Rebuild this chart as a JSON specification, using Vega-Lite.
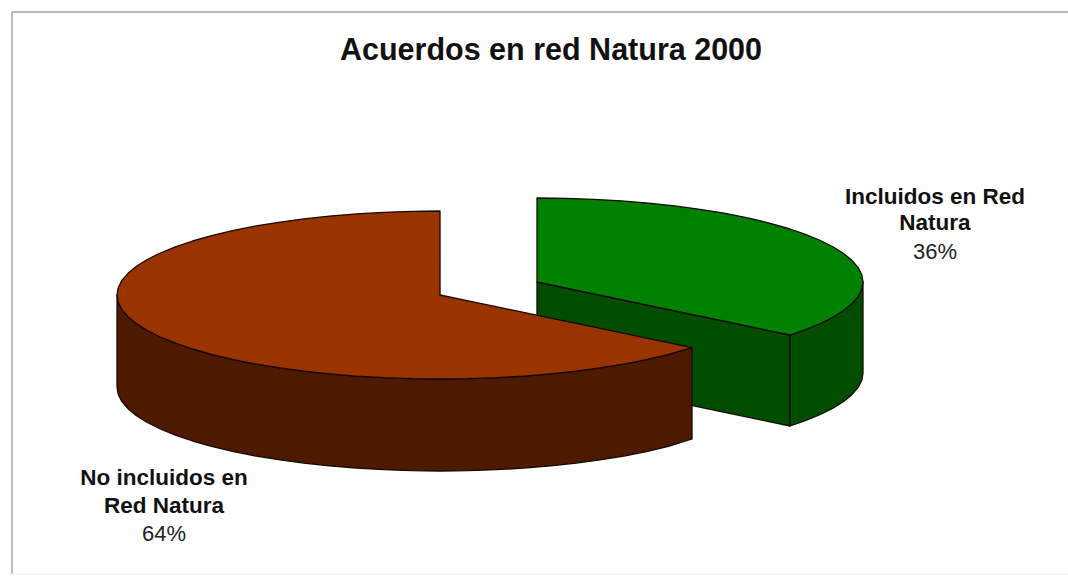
{"$schema":"https://vega.github.io/schema/vega-lite/v6.json","width":1068,"height":579,"padding":0,"autosize":{"type":"none"},"background":"#ffffff","view":{"stroke":null},
"title":{"text":"Acuerdos en red Natura 2000","anchor":"middle","dx":17,"dy":90,"offset":0,"font":"Liberation Sans","fontSize":30.5,"fontWeight":"bold","color":"#111111","baseline":"alphabetic"},
"datasets":{
"surfaces":[
{"part":"Incluidos lado corte","x":537,"y":282,"y2":373},
{"part":"Incluidos lado corte","x":790,"y":335,"y2":426},
{"part":"Incluidos lado","x":790,"y":335,"y2":426},
{"part":"Incluidos lado","x":804,"y":330.2,"y2":421.2},
{"part":"Incluidos lado","x":819.3,"y":324,"y2":415},
{"part":"Incluidos lado","x":832.5,"y":317.5,"y2":408.5},
{"part":"Incluidos lado","x":843.3,"y":310.7,"y2":401.7},
{"part":"Incluidos lado","x":851.9,"y":303.7,"y2":394.7},
{"part":"Incluidos lado","x":858,"y":296.6,"y2":387.6},
{"part":"Incluidos lado","x":861.8,"y":289.3,"y2":380.3},
{"part":"Incluidos lado","x":863,"y":282,"y2":373},
{"part":"Incluidos","x":537,"y":198,"y2":282},
{"part":"Incluidos","x":565.4,"y":198.3,"y2":288},
{"part":"Incluidos","x":593.6,"y":199.3,"y2":293.9},
{"part":"Incluidos","x":621.4,"y":200.9,"y2":299.7},
{"part":"Incluidos","x":648.5,"y":203.1,"y2":305.4},
{"part":"Incluidos","x":674.8,"y":205.9,"y2":310.9},
{"part":"Incluidos","x":700,"y":209.3,"y2":316.1},
{"part":"Incluidos","x":724,"y":213.2,"y2":321.2},
{"part":"Incluidos","x":746.5,"y":217.7,"y2":325.9},
{"part":"Incluidos","x":767.5,"y":222.6,"y2":330.3},
{"part":"Incluidos","x":790,"y":229,"y2":335},
{"part":"Incluidos","x":804,"y":233.8,"y2":330.2},
{"part":"Incluidos","x":819.3,"y":240,"y2":324},
{"part":"Incluidos","x":832.5,"y":246.5,"y2":317.5},
{"part":"Incluidos","x":843.3,"y":253.3,"y2":310.7},
{"part":"Incluidos","x":851.9,"y":260.3,"y2":303.7},
{"part":"Incluidos","x":858,"y":267.4,"y2":296.6},
{"part":"Incluidos","x":861.8,"y":274.7,"y2":289.3},
{"part":"Incluidos","x":863,"y":282,"y2":282},
{"part":"No incluidos lado","x":117,"y":295,"y2":387},
{"part":"No incluidos lado","x":118.2,"y":302.3,"y2":394.3},
{"part":"No incluidos lado","x":121.9,"y":309.6,"y2":401.6},
{"part":"No incluidos lado","x":128,"y":316.7,"y2":408.7},
{"part":"No incluidos lado","x":136.5,"y":323.7,"y2":415.7},
{"part":"No incluidos lado","x":147.3,"y":330.5,"y2":422.5},
{"part":"No incluidos lado","x":160.3,"y":337,"y2":429},
{"part":"No incluidos lado","x":175.4,"y":343.2,"y2":435.2},
{"part":"No incluidos lado","x":192.6,"y":349,"y2":441},
{"part":"No incluidos lado","x":211.6,"y":354.4,"y2":446.4},
{"part":"No incluidos lado","x":232.4,"y":359.3,"y2":451.3},
{"part":"No incluidos lado","x":254.7,"y":363.8,"y2":455.8},
{"part":"No incluidos lado","x":278.5,"y":367.7,"y2":459.7},
{"part":"No incluidos lado","x":303.5,"y":371.1,"y2":463.1},
{"part":"No incluidos lado","x":329.5,"y":373.9,"y2":465.9},
{"part":"No incluidos lado","x":356.4,"y":376.1,"y2":468.1},
{"part":"No incluidos lado","x":383.9,"y":377.7,"y2":469.7},
{"part":"No incluidos lado","x":411.8,"y":378.7,"y2":470.7},
{"part":"No incluidos lado","x":440,"y":379,"y2":471},
{"part":"No incluidos lado","x":468.2,"y":378.7,"y2":470.7},
{"part":"No incluidos lado","x":496.1,"y":377.7,"y2":469.7},
{"part":"No incluidos lado","x":523.6,"y":376.1,"y2":468.1},
{"part":"No incluidos lado","x":550.5,"y":373.9,"y2":465.9},
{"part":"No incluidos lado","x":576.5,"y":371.1,"y2":463.1},
{"part":"No incluidos lado","x":601.5,"y":367.7,"y2":459.7},
{"part":"No incluidos lado","x":625.3,"y":363.8,"y2":455.8},
{"part":"No incluidos lado","x":647.6,"y":359.3,"y2":451.3},
{"part":"No incluidos lado","x":668.4,"y":354.4,"y2":446.4},
{"part":"No incluidos lado","x":692,"y":347.6,"y2":439},
{"part":"No incluidos","x":117,"y":295,"y2":295},
{"part":"No incluidos","x":118.2,"y":287.7,"y2":302.3},
{"part":"No incluidos","x":121.9,"y":280.4,"y2":309.6},
{"part":"No incluidos","x":128,"y":273.3,"y2":316.7},
{"part":"No incluidos","x":136.5,"y":266.3,"y2":323.7},
{"part":"No incluidos","x":147.3,"y":259.5,"y2":330.5},
{"part":"No incluidos","x":160.3,"y":253,"y2":337},
{"part":"No incluidos","x":175.4,"y":246.8,"y2":343.2},
{"part":"No incluidos","x":192.6,"y":241,"y2":349},
{"part":"No incluidos","x":211.6,"y":235.6,"y2":354.4},
{"part":"No incluidos","x":232.4,"y":230.7,"y2":359.3},
{"part":"No incluidos","x":254.7,"y":226.2,"y2":363.8},
{"part":"No incluidos","x":278.5,"y":222.3,"y2":367.7},
{"part":"No incluidos","x":303.5,"y":218.9,"y2":371.1},
{"part":"No incluidos","x":329.5,"y":216.1,"y2":373.9},
{"part":"No incluidos","x":356.4,"y":213.9,"y2":376.1},
{"part":"No incluidos","x":383.9,"y":212.3,"y2":377.7},
{"part":"No incluidos","x":411.8,"y":211.3,"y2":378.7},
{"part":"No incluidos","x":440,"y":211,"y2":379},
{"part":"No incluidos","x":440.05,"y":295,"y2":379},
{"part":"No incluidos","x":468.2,"y":300.9,"y2":378.7},
{"part":"No incluidos","x":496.1,"y":306.7,"y2":377.7},
{"part":"No incluidos","x":523.6,"y":312.4,"y2":376.1},
{"part":"No incluidos","x":550.5,"y":318.1,"y2":373.9},
{"part":"No incluidos","x":576.5,"y":323.4,"y2":371.1},
{"part":"No incluidos","x":601.5,"y":328.7,"y2":367.7},
{"part":"No incluidos","x":625.3,"y":333.6,"y2":363.8},
{"part":"No incluidos","x":647.6,"y":338.3,"y2":359.3},
{"part":"No incluidos","x":668.4,"y":342.6,"y2":354.4},
{"part":"No incluidos","x":692,"y":347.6,"y2":347.6}
],
"names":[
{"line":"Incluidos en Red","x":935,"y":197},
{"line":"Natura","x":935,"y":223},
{"line":"No incluidos en","x":164,"y":478},
{"line":"Red Natura","x":164,"y":506}
],
"shares":[
{"slice":"Incluidos en Red Natura","share":0.36,"x":935,"y":252},
{"slice":"No incluidos en Red Natura","share":0.64,"x":164,"y":534}
]
},
"layer":[
{"data":{"values":[{"x":12,"x2":1068,"y":12,"y2":12},{"x":12,"x2":12,"y":12,"y2":574}]},"mark":{"type":"rule","color":"#a6a6a6","strokeWidth":1.5},
"encoding":{"x":{"field":"x","type":"quantitative","scale":{"domain":[0,1068],"nice":false,"zero":false},"axis":null},"x2":{"field":"x2"},"y":{"field":"y","type":"quantitative","scale":{"domain":[579,0],"nice":false,"zero":false},"axis":null},"y2":{"field":"y2"}}},
{"data":{"values":[{"x":12,"x2":1068,"y":574,"y2":574}]},"mark":{"type":"rule","color":"#f0f0f0","strokeWidth":1.5},
"encoding":{"x":{"field":"x","type":"quantitative","axis":null},"x2":{"field":"x2"},"y":{"field":"y","type":"quantitative","axis":null},"y2":{"field":"y2"}}},
{"data":{"name":"surfaces"},"mark":{"type":"area","orient":"vertical","interpolate":"linear","stroke":"#150800","strokeWidth":1.3,"strokeJoin":"round","line":false,"opacity":1},
"encoding":{"x":{"field":"x","type":"quantitative","axis":null},"y":{"field":"y","type":"quantitative","stack":null,"axis":null},"y2":{"field":"y2"},
"color":{"field":"part","type":"nominal","legend":null,"scale":{"domain":["Incluidos lado corte","Incluidos lado","Incluidos","No incluidos lado","No incluidos"],"range":["#004d00","#004d00","#008000","#4d1a00","#993300"]}}}},
{"data":{"name":"names"},"mark":{"type":"text","font":"Liberation Sans","fontSize":22.5,"fontWeight":"bold","color":"#111111","align":"center","baseline":"middle"},
"encoding":{"x":{"field":"x","type":"quantitative","axis":null},"y":{"field":"y","type":"quantitative","axis":null},"text":{"field":"line","type":"nominal"}}},
{"data":{"name":"shares"},"mark":{"type":"text","font":"Liberation Sans","fontSize":22,"color":"#222222","align":"center","baseline":"middle"},
"encoding":{"x":{"field":"x","type":"quantitative","axis":null},"y":{"field":"y","type":"quantitative","axis":null},"text":{"field":"share","type":"quantitative","format":".0%"}}}
],
"resolve":{"scale":{"x":"shared","y":"shared"}}}
